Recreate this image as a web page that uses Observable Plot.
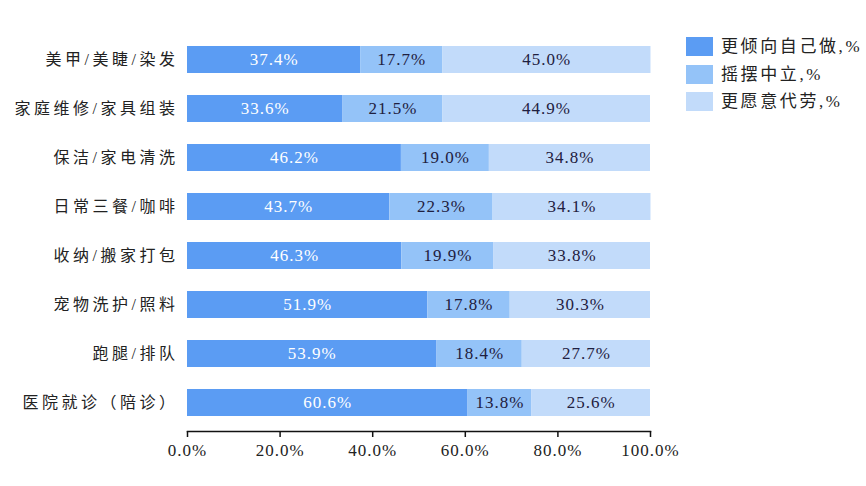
<!DOCTYPE html>
<html>
<head>
<meta charset="utf-8">
<script src="https://cdn.jsdelivr.net/npm/d3@7"></script>
<script src="https://cdn.jsdelivr.net/npm/@observablehq/plot@0.6"></script>
<style>
  html, body { margin: 0; padding: 0; background: #fff; }
  #wrap { position: relative; width: 866px; height: 486px; }
  #legend { position: absolute; left: 686px; top: 33px; font-family: "Liberation Serif", "Noto Sans CJK SC", serif; font-size: 17px; color: #222; white-space: nowrap; }
  .row { display: flex; align-items: center; height: 27.5px; }
  .sw { width: 27px; height: 19px; margin-right: 8px; flex: none; }
  .lab { letter-spacing: 2.6px; line-height: 19px; }
  g[aria-label="y-axis tick label"] text { letter-spacing: 3.5px; }
  g[aria-label="x-axis tick label"] text { letter-spacing: 1px; }
  g[aria-label="text"] text { letter-spacing: 1px; }
</style>
</head>
<body>
<div id="wrap"><div id="chart"></div><div id="legend"></div></div>
<script>
const categories = ["美甲/美睫/染发", "家庭维修/家具组装", "保洁/家电清洗", "日常三餐/咖啡", "收纳/搬家打包", "宠物洗护/照料", "跑腿/排队", "医院就诊（陪诊）"];
const seriesNames = ["更倾向自己做,%", "摇摆中立,%", "更愿意代劳,%"];
const selfDo = [37.4, 33.6, 46.2, 43.7, 46.3, 51.9, 53.9, 60.6];
const neutral = [17.7, 21.5, 19.0, 22.3, 19.9, 17.8, 18.4, 13.8];
const outsource = [45.0, 44.9, 34.8, 34.1, 33.8, 30.3, 27.7, 25.6];
const xTicks = [0, 20, 40, 60, 80, 100];
const colors = ["#5b9cf3", "#94c3f8", "#c2dbfa"];
const labelColors = ["#ffffff", "#1f2040", "#1f2040"];

const seriesValues = [selfDo, neutral, outsource];
const data = [];
seriesNames.forEach((s, si) => {
  categories.forEach((c, ci) => {
    data.push({cat: c, series: s, si, value: seriesValues[si][ci]});
  });
});

const chart = Plot.plot({
  width: 866,
  height: 486,
  marginLeft: 187,
  marginRight: 216,
  marginTop: 31,
  marginBottom: 55,
  style: {fontFamily: '"Liberation Serif", "Noto Sans CJK SC", serif', fontSize: "16px", color: "#222", background: "#fff"},
  x: {domain: [0, 100], ticks: xTicks, tickFormat: d => d.toFixed(1) + "%", label: null},
  y: {domain: categories, paddingInner: 0.447, paddingOuter: 0.25, label: null},
  color: {domain: seriesNames, range: colors},
  marks: [
    Plot.barX(data, Plot.stackX({x: "value", y: "cat", fill: "series", order: "si"})),
    Plot.textX(data, Plot.stackX({x: "value", y: "cat", z: "series", order: "si", text: d => d.value.toFixed(1) + "%", fill: d => labelColors[d.si], fontSize: 17})),
    Plot.frame({anchor: "bottom", stroke: "#111", strokeWidth: 1.5}),
    Plot.axisX({ticks: xTicks, tickFormat: d => d.toFixed(1) + "%", tickSize: 6, tickPadding: 6, stroke: "#111", strokeWidth: 1.5, fontSize: 17, label: null}),
    Plot.axisY({tickSize: 0, tickPadding: 9, fontSize: 16, label: null})
  ]
});
document.getElementById("chart").appendChild(chart);

const legend = document.getElementById("legend");
seriesNames.forEach((s, i) => {
  const row = document.createElement("div");
  row.className = "row";
  row.innerHTML = `<div class="sw" style="background:${colors[i]}"></div><span class="lab">${s}</span>`;
  legend.appendChild(row);
});
</script>
</body>
</html>
